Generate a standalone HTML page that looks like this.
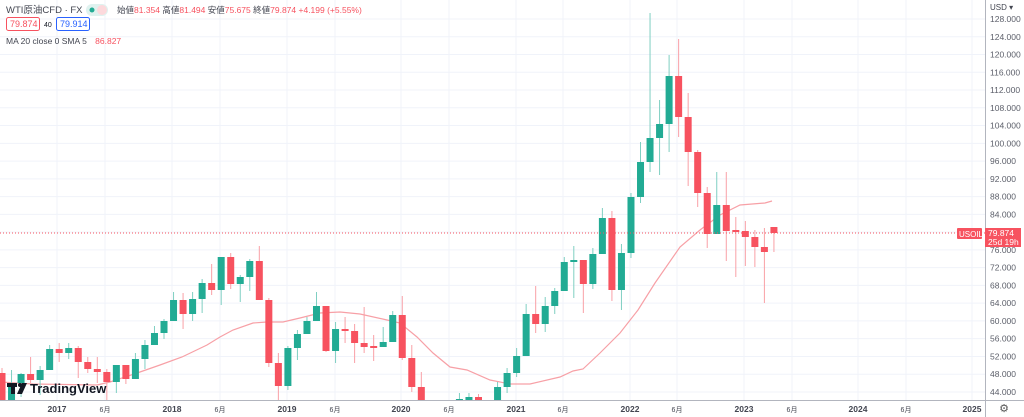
<!DOCTYPE html>
<html><head><meta charset="utf-8"><style>
body{margin:0;background:#fff;width:1024px;height:417px;overflow:hidden;font-family:"Liberation Sans","Noto Sans CJK JP",sans-serif}
svg{position:absolute;left:0;top:0}
</style></head><body>
<svg id="s" width="1024" height="417" xmlns="http://www.w3.org/2000/svg" font-family="Liberation Sans, Noto Sans CJK JP, sans-serif">
<g id="grid" stroke="#f0f3fa" stroke-width="1"></g>
<g id="ma"></g>
<g id="c"></g>
<line x1="0" y1="233" x2="985" y2="233" stroke="#f7525f" stroke-dasharray="1,2" stroke-width="1"/>
<line x1="985.5" y1="0" x2="985.5" y2="417" stroke="#b2b5be"/>
<line x1="0" y1="400.5" x2="1024" y2="400.5" stroke="#b2b5be"/>
<g id="ax" font-size="9" fill="#434651"></g>
<text x="990" y="10" font-size="8" fill="#434651">USD ▾</text>
<rect x="957" y="228" width="25" height="11" fill="#f7525f" rx="1"/>
<text x="959" y="237" font-size="8" fill="#fff">USOIL</text>
<rect x="985" y="228" width="36" height="19" fill="#f7525f"/>
<text x="988" y="236" font-size="8.5" fill="#fff">79.874</text>
<text x="988" y="245" font-size="8.5" fill="#fff">25d 19h</text>
<text x="1004" y="412" font-size="11" fill="#555" text-anchor="middle">⚙</text>
<!-- legend -->
<text x="6" y="13" font-size="9.5" fill="#434651">WTI原油CFD · FX</text>
<rect x="86" y="4" width="22" height="12" rx="6" fill="#dff2ef"/>
<circle cx="92" cy="10" r="2.5" fill="#22ab94"/>
<rect x="97" y="5" width="10" height="10" rx="5" fill="#fcd9dc"/>
<text x="117" y="13" font-size="8.5" fill="#434651">始値<tspan fill="#f7525f">81.354</tspan> 高値<tspan fill="#f7525f">81.494</tspan> 安値<tspan fill="#f7525f">75.675</tspan> 終値<tspan fill="#f7525f">79.874 +4.199 (+5.55%)</tspan></text>
<rect x="6.5" y="17.5" width="33" height="13" rx="2" fill="#fff" stroke="#f7525f"/>
<text x="10" y="27" font-size="9" fill="#f7525f">79.874</text>
<text x="44" y="27" font-size="7" fill="#131722">40</text>
<rect x="56.5" y="17.5" width="33" height="13" rx="2" fill="#fff" stroke="#2962ff"/>
<text x="60" y="27" font-size="9" fill="#2962ff">79.914</text>
<text x="6" y="44" font-size="8.5" fill="#434651">MA 20 close 0 SMA 5 <tspan dx="6" fill="#f7525f">86.827</tspan></text>
<!-- logo -->
<g>
<rect x="7" y="383" width="10" height="4" fill="#131722"/><rect x="11" y="383" width="4" height="11" fill="#131722"/>
<circle cx="20" cy="385" r="2" fill="#131722"/><polygon points="22,383 27,383 22,394 17,394" fill="#131722"/>
<text x="30" y="393" font-size="13" font-weight="bold" fill="#131722">TradingView</text>
</g>
</svg>
<script>
const NS="http://www.w3.org/2000/svg";
function el(p,t,a,txt){const e=document.createElementNS(NS,t);for(const k in a)e.setAttribute(k,a[k]);if(txt)e.textContent=txt;document.getElementById(p).appendChild(e);return e;}
for(let p=44;p<=128;p+=4){const y=19+(128-p)*4.44;el('grid','line',{x1:0,x2:985,y1:y,y2:y});el('ax','text',{x:990,y:y+3,'font-size':8.5,fill:'#5d606b'},p.toFixed(3));}
const yrs=[[57,'2017'],[172,'2018'],[287,'2019'],[401,'2020'],[516,'2021'],[630,'2022'],[744,'2023'],[858,'2024'],[972,'2025']];
const jun=[105,220,335,449,563,677,792,906];
yrs.forEach(a=>{el('grid','line',{x1:a[0],x2:a[0],y1:0,y2:400});el('ax','text',{x:a[0],y:412,'text-anchor':'middle','font-weight':'bold','font-size':8.5},a[1]);});
jun.forEach(x=>{el('grid','line',{x1:x,x2:x,y1:0,y2:400});el('ax','text',{x:x,y:412,'text-anchor':'middle','font-size':7},'6月');});
const C=[['r',373,401,368,401],['g',385,401,370,401],['g',374,383,373,397],['r',374,380,357,383],['g',370,380,366,395],['g',349,370,345,370],['r',349,353,343,362],['g',348,353,343,359],['r',348,362,346,378],['r',362,369,357,373],['r',369,372,357,383],['r',372,382,369,401],['g',365,382,365,393],['r',365,379,365,384],['g',359,379,353,379],['g',345,359,340,369],['g',333,345,326,345],['g',321,333,319,339],['g',300,321,292,321],['r',300,314,293,329],['g',299,314,292,321],['g',283,299,279,313],['r',283,290,264,295],['g',257,290,257,305],['r',257,284,253,289],['g',277,284,275,302],['g',261,277,259,291],['r',261,300,246,300],['r',300,363,298,367],['r',363,386,353,400],['g',348,386,346,390],['g',334,348,330,360],['g',321,334,317,334],['g',306,321,292,321],['r',306,351,306,352],['g',329,351,322,363],['r',329,331,317,343],['r',331,343,324,363],['r',343,347,307,353],['r',346,348,335,361],['g',342,347,327,347],['g',315,342,311,342],['r',315,358,296,360],['r',358,387,345,392],['r',387,401,372,401],null,null,null,['g',399,401,393,401],['g',397,401,393,401],['r',397,401,394,401],null,['g',387,401,382,401],['g',373,387,368,393],['g',356,373,348,377],['g',314,356,304,356],['r',314,324,286,333],['g',306,324,297,332],['g',291,306,288,314],['g',262,291,257,291],['g',260,262,246,298],['r',260,284,260,313],['g',254,284,248,289],['g',218,254,208,254],['r',218,290,211,301],['g',253,290,244,310],['g',197,253,193,258],['g',162,197,142,203],['g',138,162,13,172],['g',124,138,100,175],['g',76,124,55,152],['r',76,117,39,137],['r',117,152,93,186],['r',152,193,150,207],['r',193,234,187,248],['g',205,234,172,234],['r',205,231,172,261],['r',230,232,217,277],['r',231,237,221,266],['r',237,247,230,267],['r',247,252,228,303],['r',227,233,227,252]];
C.forEach((c,i)=>{if(!c)return;const x=2+9.53*i;const col=c[0]=='g'?'#22ab94':'#f7525f';const wc=c[0]=='g'?'#7fcfc2':'#f9a0a6';
el('c','line',{x1:x,x2:x,y1:c[3],y2:Math.min(c[4],400),stroke:wc,'stroke-width':1});
el('c','rect',{x:x-3.5,y:c[1],width:7,height:Math.max(1.5,Math.min(c[2],400)-c[1]),fill:col});});
const M=[[0,382],[33,384],[97,385],[110,382],[140,372],[160,365],[182,357],[207,345],[220,337],[233,330],[253,323],[267,322],[283,322],[300,318],[320,313],[340,312],[360,314],[387,320],[400,323],[417,337],[433,353],[450,367],[467,370],[490,380],[510,384],[530,384],[560,377],[573,371],[583,369],[600,353],[620,333],[638,310],[655,283],[680,247],[700,230],[720,215],[740,205],[765,203],[772,201]];
el('ma','polyline',{points:M.map(p=>p.join(',')).join(' '),fill:'none',stroke:'#f7a0a6','stroke-width':1.2});
</script>
</body></html>
